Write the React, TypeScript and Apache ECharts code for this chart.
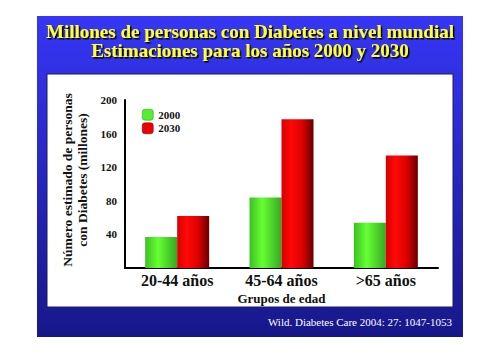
import React, { useEffect, useRef } from "react";
import * as echarts from "echarts";

const categories = ["20-44 años", "45-64 años", ">65 años"];
const seriesNames = ["2000", "2030"];
const values2000 = [37, 84, 54];
const values2030 = [62, 177, 134];
const yTicks = [0, 40, 80, 120, 160, 200];

const FONT = "'Liberation Serif', 'Times New Roman', serif";

export default function App() {
  const ref = useRef<HTMLDivElement>(null);
  useEffect(() => {
    document.body.style.margin = "0";
    const chart = echarts.init(ref.current!, null, { renderer: "svg" });
    const green = new echarts.graphic.LinearGradient(0, 0, 1, 0, [
      { offset: 0, color: "#3cc025" },
      { offset: 0.4, color: "#66ff33" },
      { offset: 1, color: "#34a822" },
    ]);
    const red = new echarts.graphic.LinearGradient(0, 0, 1, 0, [
      { offset: 0, color: "#d80000" },
      { offset: 0.3, color: "#ff0808" },
      { offset: 0.65, color: "#dd0000" },
      { offset: 1, color: "#660000" },
    ]);
    chart.setOption({
      animation: false,
      backgroundColor: "#ffffff",
      graphic: [
        {
          type: "rect",
          z: -10,
          shape: { x: 37, y: 16, width: 426, height: 321 },
          style: {
            fill: new echarts.graphic.LinearGradient(0, 0, 0, 1, [
              { offset: 0, color: "#3636f6" },
              { offset: 1, color: "#17178a" },
            ]),
          },
        },
        {
          type: "rect",
          z: -9,
          shape: { x: 47, y: 74, width: 406, height: 233 },
          style: { fill: "#ffffff", stroke: "#1a1a60", lineWidth: 1 },
        },
        {
          type: "text",
          x: 250,
          y: 41,
          style: {
            text: "Millones de personas con Diabetes a nivel mundial\nEstimaciones para los años 2000 y 2030",
            fill: "#ffff33",
            font: `bold 19px ${FONT}`,
            align: "center",
            verticalAlign: "middle",
            lineHeight: 19,
            textShadowColor: "#000000",
            textShadowOffsetX: 1.5,
            textShadowOffsetY: 1.5,
            textShadowBlur: 1,
          },
        },
        {
          type: "text",
          x: 75,
          y: 180,
          rotation: Math.PI / 2,
          style: {
            text: "Número estimado de personas\ncon Diabetes (millones)",
            fill: "#111111",
            font: `bold 13.5px ${FONT}`,
            align: "center",
            verticalAlign: "middle",
            lineHeight: 15,
          },
        },
        {
          type: "text",
          x: 452,
          y: 322,
          style: {
            text: "Wild. Diabetes Care 2004: 27: 1047-1053",
            fill: "#ffffff",
            font: `11px ${FONT}`,
            align: "right",
            verticalAlign: "middle",
          },
        },
      ],
      legend: {
        orient: "vertical",
        left: 137,
        top: 104,
        itemWidth: 11,
        itemHeight: 11,
        itemGap: 2,
        textStyle: { fontFamily: FONT, fontWeight: "bold", fontSize: 11, color: "#111" },
        data: [
          { name: seriesNames[0], itemStyle: { color: "#55ee30", borderColor: "#2a8a1a", borderWidth: 0.5 } },
          { name: seriesNames[1], itemStyle: { color: "#ee0000", borderColor: "#700000", borderWidth: 0.5 } },
        ],
      },
      grid: { left: 125, top: 100, width: 313, height: 168 },
      xAxis: {
        type: "category",
        data: categories,
        axisLine: { lineStyle: { color: "#000", width: 2 } },
        axisTick: { show: false },
        axisLabel: {
          fontFamily: FONT,
          fontWeight: "bold",
          fontSize: 16,
          color: "#111",
          margin: 4,
        },
        name: "Grupos de edad",
        nameLocation: "middle",
        nameGap: 24,
        nameTextStyle: { fontFamily: FONT, fontWeight: "bold", fontSize: 13, color: "#111" },
      },
      yAxis: {
        type: "value",
        min: yTicks[0],
        max: yTicks[yTicks.length - 1],
        interval: 40,
        axisLine: { show: true, lineStyle: { color: "#000", width: 2 } },
        axisTick: { show: false },
        splitLine: { show: false },
        axisLabel: {
          fontFamily: FONT,
          fontWeight: "bold",
          fontSize: 11,
          color: "#111",
          margin: 8,
          formatter: (v: number) => (v === 0 ? "" : String(v)),
        },
      },
      series: [
        {
          name: seriesNames[0],
          type: "bar",
          data: values2000,
          barWidth: 32,
          barGap: "0%",
          itemStyle: { color: green },
        },
        {
          name: seriesNames[1],
          type: "bar",
          data: values2030,
          barWidth: 32,
          barGap: "0%",
          itemStyle: { color: red },
        },
      ],
    });
    return () => chart.dispose();
  }, []);
  return (
    <div
      ref={ref}
      style={{ position: "fixed", left: 0, top: 0, width: 500, height: 353 }}
    />
  );
}
